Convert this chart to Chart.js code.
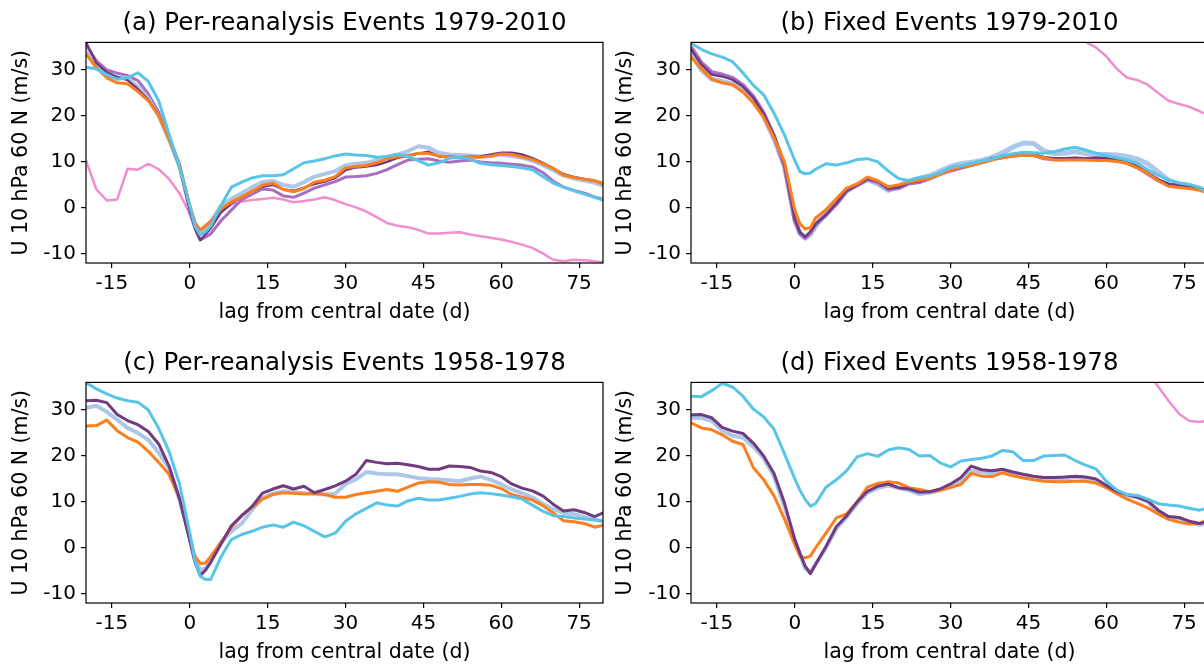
<!DOCTYPE html>
<html>
<head>
<meta charset="utf-8">
<script src="https://cdn.jsdelivr.net/npm/chart.js@4.4.0/dist/chart.umd.min.js"></script>
<style>
  html, body { margin: 0; padding: 0; background: #fff; width: 1204px; height: 666px; overflow: hidden; }
  canvas { position: absolute; }
</style>
</head>
<body>
<canvas id="chart-a" width="604" height="333" style="left:0;top:0"></canvas>
<canvas id="chart-b" width="604" height="333" style="left:604px;top:0"></canvas>
<canvas id="chart-c" width="604" height="333" style="left:0;top:340px"></canvas>
<canvas id="chart-d" width="604" height="333" style="left:604px;top:340px"></canvas>
<script>
// lag from central date (days)
const lags = [-20, -18, -16, -14, -12, -10, -8, -6, -4, -2, 0, 1, 2, 3, 4,
    6, 8, 10, 12, 14, 16, 18, 20, 22, 24, 26, 28, 30, 32, 34, 36, 38, 40, 42, 44, 46, 48,
    50, 52, 54, 56, 58, 60, 62, 64, 66, 68, 70, 72, 74, 76, 78, 80];

const xTicks = [-15, 0, 15, 30, 45, 60, 75];
const yTicks = [-10, 0, 10, 20, 30];

// (a) Per-reanalysis Events 1979-2010
const aCyan = [30.6, 30.2, 29.0, 28.0, 28.3, 29.4, 27.5, 23.3, 16.0, 9.0, 0.5, -4.0, -5.9, -5.2, -4.0,
    0.5, 4.5, 5.6, 6.5, 7.0, 7.0, 7.2, 8.5, 9.8, 10.2, 10.7, 11.3, 11.7, 11.5, 11.4, 11.0, 11.2, 11.6, 11.2, 10.3, 9.3, 9.8,
    10.8, 11.0, 10.6, 9.7, 9.4, 9.2, 9.0, 8.7, 8.3, 6.8, 5.4, 4.5, 3.7, 3.0, 2.3, 1.5];
const aPink = [10.3, 4.0, 1.6, 1.8, 8.5, 8.3, 9.6, 8.4, 6.3, 3.2, -1.3, -3.8, -4.8, -3.8, -2.8,
    -0.8, 0.7, 1.4, 1.7, 1.9, 2.2, 1.8, 1.2, 1.5, 1.8, 2.3, 1.7, 0.8, 0.1, -0.8, -2.0, -3.3, -3.9, -4.2, -4.8, -5.6, -5.6,
    -5.4, -5.3, -5.8, -6.2, -6.5, -6.9, -7.4, -8.0, -8.7, -9.9, -11.3, -11.6, -11.3, -11.4, -11.6, -11.9];
const aOrange = [33.5, 30.5, 28.3, 27.2, 27.0, 25.3, 23.3, 20.0, 15.0, 9.5, 0.5, -3.2, -4.8, -4.0, -3.0,
    -0.2, 1.3, 2.4, 3.6, 4.9, 5.4, 4.0, 3.5, 4.2, 5.6, 6.0, 6.8, 8.7, 9.0, 9.2, 9.8, 10.7, 11.1, 11.4, 11.9, 11.8, 11.3,
    11.0, 10.9, 11.0, 11.0, 11.3, 11.7, 11.6, 11.1, 10.5, 9.6, 8.6, 7.1, 6.6, 6.2, 5.9, 5.0];
const aDarkPurple = [36.0, 31.5, 29.5, 28.5, 27.8, 25.8, 23.5, 20.2, 15.0, 9.0, -0.5, -4.5, -7.0, -5.8, -4.5,
    -1.0, 1.0, 2.4, 3.6, 4.6, 5.0, 4.0, 3.7, 4.4, 5.2, 5.7, 6.5, 8.2, 8.8, 9.0, 9.3, 10.0, 10.9, 11.3, 11.8, 12.2, 11.2,
    11.1, 11.0, 11.1, 11.2, 11.6, 12.0, 12.0, 11.6, 10.8, 9.8, 8.6, 7.3, 6.7, 6.3, 5.9, 5.2];
const aPurple = [35.5, 32.0, 30.0, 29.3, 28.8, 27.7, 24.8, 20.8, 15.5, 9.5, -1.0, -4.5, -7.0, -6.4, -5.7,
    -2.8, -0.5, 1.8, 3.0, 4.1, 3.9, 2.6, 2.3, 3.2, 4.3, 5.0, 5.7, 6.7, 6.8, 7.0, 7.5, 8.3, 9.4, 10.4, 10.6, 10.7, 10.2,
    9.9, 10.2, 10.4, 10.0, 9.8, 9.7, 9.5, 9.3, 8.9, 7.7, 5.8, 4.5, 3.8, 3.2, 2.4, 1.7];
const aLightBlue = [34.0, 30.5, 28.8, 28.3, 28.3, 26.3, 23.8, 20.0, 14.8, 9.0, 0.0, -3.8, -5.5, -4.5, -3.2,
    0.5, 2.0, 3.2, 4.5, 5.6, 5.9, 5.0, 4.6, 5.6, 6.8, 7.4, 8.0, 9.3, 9.6, 9.8, 10.4, 11.1, 11.6, 12.3, 13.4, 13.1, 12.0,
    11.6, 11.5, 11.4, 11.2, 11.3, 11.6, 11.3, 10.9, 10.3, 9.3, 8.2, 7.0, 6.4, 5.9, 5.5, 4.6];

// (b) Fixed Events 1979-2010
const bCyan = [35.8, 34.5, 33.5, 32.8, 31.8, 29.4, 26.7, 24.6, 20.6, 15.9, 10.3, 7.9, 7.4, 7.6, 8.4,
    9.6, 9.3, 9.8, 10.5, 10.7, 10.0, 8.0, 6.4, 5.9, 6.6, 6.9, 7.6, 8.8, 9.2, 9.7, 10.2, 10.7, 11.4, 11.8, 12.1, 12.0, 11.9,
    12.2, 12.8, 13.2, 12.6, 11.9, 11.4, 10.9, 10.4, 9.7, 8.3, 7.1, 6.1, 5.4, 5.1, 4.4, 2.8];
const bPinkLags = [56.2, 58, 60, 62, 64, 66, 68, 70, 72, 74, 76, 78, 80];
const bPink = [36.0, 34.9, 33.0, 30.3, 28.3, 27.8, 26.8, 25.0, 23.3, 22.6, 22.0, 21.0, 20.0];
const bOrange = [32.8, 30.3, 28.0, 27.2, 26.8, 25.2, 22.8, 19.7, 15.2, 10.0, -0.5, -3.5, -4.6, -4.3, -2.2,
    -0.4, 2.0, 4.3, 5.2, 6.7, 5.9, 4.6, 5.0, 5.6, 6.0, 6.4, 7.3, 8.3, 8.9, 9.3, 9.8, 10.4, 11.0, 11.2, 11.5, 11.4, 10.9,
    10.4, 10.4, 10.4, 10.4, 10.3, 10.3, 10.1, 9.7, 8.7, 7.5, 5.9, 4.7, 4.4, 4.2, 3.8, 3.2];
const bDarkPurple = [34.5, 31.2, 29.0, 28.6, 27.9, 26.4, 24.0, 20.5, 15.8, 9.5, -2.5, -5.3, -6.3, -5.2, -3.5,
    -1.5, 1.0, 3.8, 5.0, 6.3, 5.8, 4.2, 4.5, 5.5, 5.8, 6.6, 7.6, 8.3, 8.9, 9.5, 10.0, 10.8, 11.2, 11.6, 11.8, 11.7, 11.0,
    10.8, 10.8, 10.9, 10.8, 10.9, 10.8, 10.6, 10.0, 9.0, 7.6, 6.2, 5.2, 5.0, 4.7, 4.3, 3.5];
const bPurple = [35.0, 31.6, 29.5, 29.0, 28.3, 26.7, 24.2, 20.6, 15.6, 9.2, -2.8, -5.6, -6.5, -5.4, -3.6,
    -1.6, 0.8, 3.6, 4.9, 6.2, 5.6, 4.0, 4.3, 5.3, 5.6, 6.4, 7.4, 8.1, 8.7, 9.3, 9.9, 10.6, 11.0, 11.4, 11.6, 11.5, 10.8,
    10.6, 10.6, 10.7, 10.6, 10.7, 10.6, 10.4, 9.8, 8.8, 7.4, 6.0, 5.0, 4.8, 4.5, 4.1, 3.3];
const bLightBlue = [33.5, 30.0, 28.0, 27.5, 27.0, 25.8, 23.5, 20.0, 15.0, 9.0, -2.5, -5.5, -6.6, -5.8, -4.0,
    -0.8, 1.5, 4.0, 5.0, 6.2, 5.2, 3.8, 4.8, 5.8, 6.4, 7.0, 8.0, 9.0, 9.6, 9.9, 10.3, 11.0, 12.0, 13.2, 14.1, 14.0, 12.4,
    11.8, 11.9, 12.2, 11.8, 11.6, 11.6, 11.5, 11.2, 10.6, 9.6, 7.8, 6.0, 5.2, 4.9, 4.3, 3.0];

// (c) Per-reanalysis Events 1958-1978
const cCyan = [35.9, 34.6, 33.5, 32.6, 32.0, 31.7, 30.0, 26.0, 21.0, 14.0, 3.2, -3.0, -6.2, -6.9, -6.9,
    -2.0, 1.8, 2.9, 3.6, 4.5, 5.0, 4.5, 5.6, 4.8, 3.6, 2.4, 3.2, 5.8, 7.4, 8.6, 9.8, 9.3, 9.1, 10.2, 10.8, 10.4, 10.4,
    10.8, 11.2, 11.7, 12.0, 11.8, 11.5, 11.1, 10.6, 9.3, 8.0, 7.0, 6.8, 6.5, 6.3, 6.1, 5.7];
const cDarkPurple = [32.0, 32.1, 31.6, 29.0, 27.7, 26.8, 25.3, 22.6, 17.8, 10.8, 1.5, -3.2, -6.0, -4.9, -3.2,
    0.8, 4.8, 7.0, 9.0, 11.9, 12.8, 13.5, 12.8, 13.4, 12.0, 12.7, 13.5, 14.5, 16.0, 19.0, 18.6, 18.3, 18.4, 18.1, 17.7, 17.1, 17.1,
    17.8, 17.7, 17.5, 16.7, 16.4, 15.5, 13.9, 13.0, 12.4, 11.3, 9.5, 8.0, 8.3, 7.7, 6.8, 7.8];
const cLightBlue = [30.5, 30.9, 29.6, 27.9, 26.1, 25.0, 23.5, 20.7, 17.3, 10.5, 2.5, -2.5, -4.8, -4.5, -2.7,
    1.2, 3.6, 5.3, 8.3, 10.9, 11.8, 12.3, 12.1, 11.9, 11.7, 11.6, 11.8, 13.9, 14.9, 16.5, 16.2, 16.0, 16.0, 15.6, 15.2, 15.0, 14.9,
    14.7, 14.5, 15.1, 15.5, 14.8, 13.8, 12.7, 11.9, 11.0, 9.6, 8.4, 7.6, 7.3, 6.7, 6.1, 5.7];
const cOrange = [26.5, 26.6, 27.8, 25.5, 24.0, 23.0, 21.0, 18.6, 16.0, 10.8, 2.0, -1.8, -3.4, -3.3, -1.9,
    1.2, 4.4, 7.0, 8.8, 10.6, 11.6, 12.0, 11.9, 11.7, 11.9, 11.6, 11.0, 11.0, 11.6, 12.0, 12.3, 12.7, 12.3, 13.2, 14.1, 14.4, 14.3,
    13.8, 13.7, 13.8, 13.8, 13.6, 12.9, 11.6, 11.0, 10.4, 9.2, 7.6, 5.9, 5.7, 5.3, 4.5, 5.0];

// (d) Fixed Events 1958-1978
const dCyan = [33.0, 32.9, 34.2, 35.8, 35.0, 33.0, 30.2, 28.5, 25.8, 20.5, 15.0, 12.5, 10.5, 9.1, 9.6,
    13.2, 14.8, 16.8, 19.8, 20.5, 19.9, 21.3, 21.8, 21.4, 20.0, 20.1, 18.5, 17.6, 18.9, 19.2, 19.5, 20.0, 21.2, 20.9, 19.0, 19.0, 20.0,
    20.1, 20.2, 19.0, 18.0, 17.2, 14.5, 12.6, 11.6, 11.4, 10.6, 9.6, 9.3, 9.1, 8.6, 8.2, 8.8];
const dPinkLags = [69.4, 72, 74, 76, 78, 80];
const dPink = [36.0, 32.0, 29.2, 27.6, 27.4, 27.8];
const dDarkPurple = [28.9, 29.0, 28.3, 26.2, 25.4, 24.9, 22.8, 20.0, 16.2, 9.8, 1.8, -1.2, -4.0, -5.6, -3.6,
    0.3, 4.6, 7.0, 10.0, 12.3, 13.4, 13.9, 13.1, 12.8, 12.1, 12.2, 12.8, 13.9, 15.3, 17.8, 17.0, 16.8, 17.1, 16.5, 16.0, 15.6, 15.3,
    15.3, 15.4, 15.6, 15.4, 15.0, 13.6, 12.3, 11.6, 11.0, 10.2, 8.2, 6.8, 6.6, 5.8, 5.3, 5.9];
const dLightBlue = [28.2, 28.3, 27.6, 25.5, 24.4, 24.0, 22.0, 19.5, 15.5, 9.0, 1.5, -1.5, -4.5, -5.4, -3.5,
    0.0, 4.2, 6.7, 9.6, 12.0, 13.0, 13.6, 13.0, 12.5, 11.7, 12.0, 12.6, 13.5, 14.6, 16.8, 16.4, 16.3, 16.6, 16.0, 15.5, 15.2, 15.0,
    15.0, 15.1, 15.4, 15.2, 14.8, 13.4, 12.1, 11.4, 11.0, 10.0, 8.0, 6.5, 6.4, 5.6, 5.0, 5.5];
const dOrange = [27.2, 26.1, 25.7, 24.6, 23.2, 22.5, 17.5, 14.8, 11.3, 6.3, 0.7, -1.8, -2.2, -1.8, 0.0,
    3.2, 6.5, 7.4, 10.0, 13.2, 14.0, 14.4, 14.1, 13.1, 12.7, 12.2, 12.5, 13.1, 13.8, 16.2, 15.6, 15.5, 16.3, 15.7, 15.2, 14.8, 14.5,
    14.4, 14.4, 14.5, 14.5, 14.1, 13.1, 11.8, 10.6, 9.7, 8.7, 7.4, 6.2, 5.6, 5.2, 5.3, 6.3];

const colors = {
    cyan: '#58c4e8',
    pink: '#f18ecd',
    orange: '#fb7f1c',
    lightBlue: '#aec7e8',
    purple: '#a86fc1',
    darkPurple: '#703b80'
};

const FONT = '"DejaVu Sans", sans-serif';

const line = (xs, ys, color, width) => ({
    data: xs.map((x, i) => ({x: x, y: ys[i]})),
    borderColor: color,
    borderWidth: width,
    pointRadius: 0,
    tension: 0,
    clip: 0,
    borderJoinStyle: 'round'
});

// draw the box round the plot area, like matplotlib spines
const framePlugin = {
    id: 'frame',
    afterDraw(chart) {
        const {ctx, chartArea: a} = chart;
        ctx.save();
        ctx.strokeStyle = '#000';
        ctx.lineWidth = 1.2;
        ctx.strokeRect(a.left, a.top, a.right - a.left, a.bottom - a.top);
        ctx.restore();
    }
};

const makePanel = (id, title, datasets, yWidth, padRight) => {
    new Chart(document.getElementById(id), {
        type: 'line',
        data: {datasets: datasets},
        plugins: [framePlugin],
        options: {
            responsive: false,
            animation: false,
            events: [],
            layout: {padding: {left: 0, right: padRight, top: 0, bottom: 0}},
            plugins: {
                legend: {display: false},
                tooltip: {enabled: false},
                title: {
                    display: true,
                    text: title,
                    fullSize: false,
                    color: '#000',
                    font: {family: FONT, size: 24.5, weight: 'normal'},
                    padding: {top: 9, bottom: 4}
                }
            },
            scales: {
                x: {
                    type: 'linear',
                    min: -20,
                    max: 79.6,
                    afterBuildTicks: (scale) => { scale.ticks = xTicks.map(v => ({value: v})); },
                    afterFit: (scale) => { scale.height = 70; },
                    border: {display: false},
                    grid: {drawOnChartArea: false, drawTicks: true, tickLength: 5, color: '#000', lineWidth: 1.2},
                    ticks: {
                        autoSkip: false, maxRotation: 0, padding: 4, color: '#000',
                        font: {family: FONT, size: 20},
                        callback: (v) => String(v)
                    },
                    title: {
                        display: true, text: 'lag from central date (d)', color: '#000',
                        font: {family: FONT, size: 20.5}, padding: {top: 0, bottom: 8}
                    }
                },
                y: {
                    type: 'linear',
                    min: -12,
                    max: 36,
                    afterBuildTicks: (scale) => { scale.ticks = yTicks.map(v => ({value: v})); },
                    afterFit: (scale) => { scale.width = yWidth; },
                    border: {display: false},
                    grid: {drawOnChartArea: false, drawTicks: true, tickLength: 5, color: '#000', lineWidth: 1.2},
                    ticks: {
                        padding: 5, color: '#000',
                        font: {family: FONT, size: 20},
                        callback: (v) => String(v)
                    },
                    title: {
                        display: true, text: 'U 10 hPa 60 N (m/s)', color: '#000',
                        font: {family: FONT, size: 20.5}, padding: {top: 9, bottom: 0}
                    }
                }
            }
        }
    });
};

// first dataset is drawn on top
makePanel('chart-a', '(a) Per-reanalysis Events 1979-2010', [
    line(lags, aCyan, colors.cyan, 3),
    line(lags, aOrange, colors.orange, 3),
    line(lags, aDarkPurple, colors.darkPurple, 2.5),
    line(lags, aLightBlue, colors.lightBlue, 4),
    line(lags, aPurple, colors.purple, 3),
    line(lags, aPink, colors.pink, 2.5)
], 86, 1);

makePanel('chart-b', '(b) Fixed Events 1979-2010', [
    line(lags, bCyan, colors.cyan, 3),
    line(bPinkLags, bPink, colors.pink, 2.5),
    line(lags, bOrange, colors.orange, 3),
    line(lags, bDarkPurple, colors.darkPurple, 2.5),
    line(lags, bPurple, colors.purple, 4),
    line(lags, bLightBlue, colors.lightBlue, 5)
], 87, 0);

makePanel('chart-c', '(c) Per-reanalysis Events 1958-1978', [
    line(lags, cCyan, colors.cyan, 3),
    line(lags, cDarkPurple, colors.darkPurple, 3),
    line(lags, cOrange, colors.orange, 3),
    line(lags, cLightBlue, colors.lightBlue, 4)
], 86, 1);

makePanel('chart-d', '(d) Fixed Events 1958-1978', [
    line(lags, dCyan, colors.cyan, 3),
    line(dPinkLags, dPink, colors.pink, 2.5),
    line(lags, dDarkPurple, colors.darkPurple, 3),
    line(lags, dOrange, colors.orange, 3),
    line(lags, dLightBlue, colors.lightBlue, 4)
], 87, 0);
</script>
</body>
</html>
